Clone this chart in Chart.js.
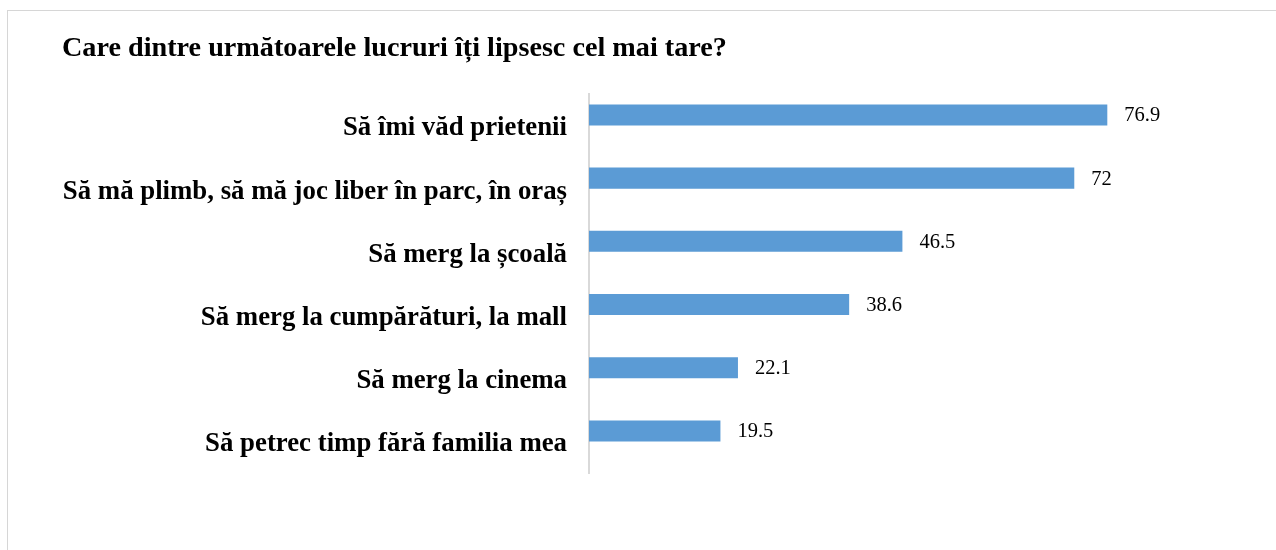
<!DOCTYPE html>
<html>
<head>
<meta charset="utf-8">
<script src="https://cdn.jsdelivr.net/npm/chart.js@4"></script>
<style>
  body { margin: 0; background: #fff; overflow: hidden; }
  #frame {
    position: absolute; left: 7px; top: 10px;
    width: 1300px; height: 600px;
    border: 1px solid #d6d6d6;
  }
  #wrap { position: absolute; left: 0; top: 0; width: 1276px; height: 550px; }
</style>
</head>
<body>
<div id="frame"></div>
<div id="wrap"><canvas id="chart"></canvas></div>
<script>
const title = 'Care dintre următoarele lucruri îți lipsesc cel mai tare?'

const categories = [
  'Să îmi văd prietenii',
  'Să mă plimb, să mă joc liber în parc, în oraș',
  'Să merg la școală',
  'Să merg la cumpărături, la mall',
  'Să merg la cinema',
  'Să petrec timp fără familia mea'
]

const values = [76.9, 72, 46.5, 38.6, 22.1, 19.5]

// second series is empty in the original, it only reserves the slot under each bar
const emptySeries = []

const serif = "'Liberation Serif', 'Times New Roman', serif"

// value labels next to each bar end
const valueLabels = {
  id: 'valueLabels',
  afterDatasetsDraw(chart) {
    const ctx = chart.ctx
    const meta = chart.getDatasetMeta(0)
    ctx.save()
    ctx.font = `20.5px ${serif}`
    ctx.fillStyle = '#000'
    ctx.textAlign = 'left'
    ctx.textBaseline = 'middle'
    meta.data.forEach((bar, i) => {
      ctx.fillText(String(values[i]), bar.x + 17, bar.y + 1)
    })
    ctx.restore()
  }
}

const data = {
  labels: categories,
  datasets: [
    {
      label: 'Procent',
      data: values,
      backgroundColor: '#5b9bd5',
      borderWidth: 0,
      categoryPercentage: 0.665,
      barPercentage: 1
    },
    {
      label: 'Seria 2',
      data: emptySeries,
      backgroundColor: '#ed7d31',
      categoryPercentage: 0.665,
      barPercentage: 1
    }
  ]
}

const config = {
  type: 'bar',
  data: data,
  options: {
    indexAxis: 'y',
    responsive: true,
    maintainAspectRatio: false,
    animation: false,
    layout: { padding: { left: 62, right: 13, top: 0, bottom: 77 } },
    plugins: {
      legend: { display: false },
      tooltip: { enabled: false },
      title: {
        display: true,
        text: title,
        align: 'start',
        color: '#000',
        font: { family: serif, size: 28.2, weight: 'bold' },
        padding: { top: 32, bottom: 28 }
      }
    },
    scales: {
      x: {
        display: false,
        min: 0,
        max: 100
      },
      y: {
        afterFit(scale) { scale.width = 527 },
        grid: { display: false, drawTicks: false },
        border: { display: true, color: '#d9d9d9', width: 2 },
        ticks: {
          color: '#000',
          padding: 22,
          labelOffset: 3,
          font: { family: serif, size: 26.8, weight: 'bold' }
        }
      }
    }
  },
  plugins: [valueLabels]
}

const chart = new Chart(document.getElementById('chart'), config)
</script>
</body>
</html>
